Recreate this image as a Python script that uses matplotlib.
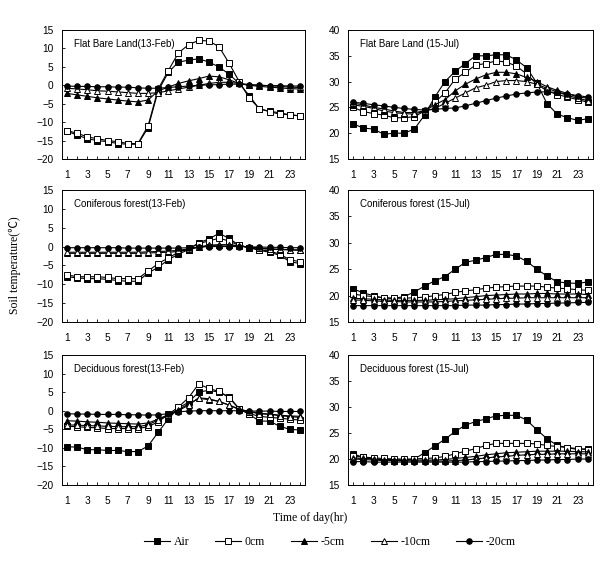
import matplotlib
matplotlib.use('agg')
import matplotlib.pyplot as plt
import numpy as np

hours = list(range(1, 25))
series_names = ["Air", "0cm", "-5cm", "-10cm", "-20cm"]

# Flat bare land, 13-Feb
fb_feb_air = [-12.5, -13.5, -14.5, -15, -15.3, -15.8, -16, -16, -11.5, -1.5, 3.5, 6.3,
              6.8, 7.2, 6.3, 5, 3, 0.5, -2.8, -6.5, -7, -7.5, -8, -8.3]
fb_feb_0 = [-12.3, -13, -14, -14.5, -15, -15.3, -15.8, -15.8, -11, -1, 4, 8.8,
            11, 12.2, 12, 10.5, 6, 1, -3.5, -6.3, -7.2, -7.8, -8, -8.3]
fb_feb_5 = [-2.2, -2.6, -3, -3.4, -3.7, -4, -4.3, -4.5, -4, -1.5, -0.5, 0.5,
            1.2, 1.8, 2.5, 2.3, 1.5, 0.5, 0, -0.3, -0.5, -0.7, -0.9, -1]
fb_feb_10 = [-0.8, -1, -1.2, -1.5, -1.6, -1.8, -2, -2.2, -2.2, -2, -1.5, -1,
             -0.5, 0, 0.5, 0.8, 0.8, 0.5, 0.2, 0, -0.1, -0.3, -0.5, -0.6]
fb_feb_20 = [-0.2, -0.3, -0.3, -0.4, -0.4, -0.5, -0.5, -0.7, -0.8, -0.8, -0.6, -0.4,
             -0.2, 0, 0.1, 0.2, 0.3, 0.3, 0.1, 0, -0.1, -0.1, -0.2, -0.2]

# Flat bare land, 15-Jul
fb_jul_air = [21.8, 21, 20.8, 19.8, 20, 20, 20.8, 23.5, 27, 30, 32, 33.5,
              35, 35, 35.2, 35.2, 34.2, 32.7, 29.7, 25.7, 23.7, 23, 22.5, 22.8]
fb_jul_0 = [25, 24.2, 23.8, 23.5, 23, 23, 23.2, 24.3, 26, 27.8, 30.5, 31.8,
            33.2, 33.5, 34, 33.8, 33, 31.5, 29.5, 28.2, 27.5, 27, 26.5, 26]
fb_jul_5 = [25.5, 25.2, 24.8, 24.3, 24, 23.8, 23.7, 24.3, 25.5, 26.5, 28.2, 29.5,
            30.5, 31.3, 31.8, 31.8, 31.5, 30.8, 30, 29, 28.3, 27.7, 27, 26.8]
fb_jul_10 = [25.8, 25.5, 25, 24.7, 24.3, 24, 24, 24.3, 24.8, 25.8, 26.8, 27.8,
             28.8, 29.3, 30, 30.2, 30.2, 30, 29.5, 28.7, 28, 27.3, 26.8, 26.3]
fb_jul_20 = [26, 25.8, 25.5, 25.3, 25, 24.8, 24.6, 24.5, 24.6, 24.8, 24.9, 25.3,
             25.8, 26.3, 26.8, 27.2, 27.6, 27.8, 28, 28, 27.9, 27.6, 27.3, 27]

# Coniferous forest, 13-Feb
cf_feb_air = [-8, -8.3, -8.5, -8.5, -8.7, -9, -9.2, -9.2, -7, -5.5, -3.5, -2,
              -0.8, 1, 2, 3.5, 2.2, 0.3, -0.3, -1, -1.5, -2.3, -4, -4.5]
cf_feb_0 = [-7.5, -8, -8, -8, -8.2, -8.5, -8.5, -8.5, -6.5, -4.5, -3, -1.5,
            -0.5, 0.8, 1.5, 2.2, 1.5, 0.3, -0.3, -0.8, -1.2, -2, -3.5, -4]
cf_feb_5 = [-1.8, -1.8, -1.8, -1.8, -1.8, -1.8, -1.8, -1.8, -1.7, -1.6, -1.5, -1.3,
            -0.8, -0.2, 0.3, 0.5, 0.5, 0.2, -0.2, -0.5, -0.7, -0.8, -0.9, -1]
cf_feb_10 = [-1.5, -1.5, -1.5, -1.5, -1.5, -1.5, -1.5, -1.5, -1.4, -1.3, -1.2, -1,
             -0.6, -0.1, 0.3, 0.4, 0.4, 0.2, -0.1, -0.4, -0.6, -0.7, -0.8, -0.9]
cf_feb_20 = [-0.3, -0.3, -0.3, -0.3, -0.3, -0.3, -0.4, -0.4, -0.4, -0.4, -0.4, -0.4,
             -0.3, -0.2, 0, 0, 0, 0, -0.1, -0.1, -0.2, -0.2, -0.3, -0.3]

# Coniferous forest, 15-Jul
cf_jul_air = [21.3, 20.5, 20, 19.5, 19.5, 19.8, 20.7, 21.8, 22.8, 23.6, 25, 26.3,
              26.7, 27.2, 27.8, 27.8, 27.5, 26.5, 25, 23.7, 22.6, 22.4, 22.3, 22.6]
cf_jul_0 = [20.3, 20, 19.8, 19.6, 19.5, 19.5, 19.6, 19.7, 20, 20.2, 20.6, 20.9,
            21.1, 21.4, 21.6, 21.7, 21.8, 21.8, 21.8, 21.6, 21.4, 21.3, 21.1, 21]
cf_jul_5 = [19.5, 19.4, 19.3, 19.2, 19.1, 19.1, 19.1, 19.1, 19.2, 19.3, 19.4, 19.6,
            19.8, 20, 20.1, 20.2, 20.3, 20.3, 20.4, 20.4, 20.3, 20.3, 20.3, 20.2]
cf_jul_10 = [19.2, 19.1, 19.0, 18.9, 18.9, 18.8, 18.8, 18.8, 18.8, 18.9, 19.0, 19.1,
             19.2, 19.3, 19.4, 19.5, 19.5, 19.6, 19.6, 19.6, 19.6, 19.6, 19.6, 19.6]
cf_jul_20 = [18.1, 18.1, 18.1, 18.1, 18.1, 18.1, 18.1, 18.1, 18.1, 18.1, 18.1, 18.2,
             18.2, 18.2, 18.3, 18.3, 18.4, 18.4, 18.5, 18.5, 18.6, 18.6, 18.7, 18.7]

# Deciduous forest, 13-Feb
df_feb_air = [-9.7, -9.8, -10.5, -10.5, -10.7, -10.7, -11, -11, -9.5, -5.8, -2.2, 0.7,
              2.3, 5, 5.5, 5, 3.8, 0.5, -1, -2.8, -2.8, -4.2, -5, -5.2]
df_feb_0 = [-4.2, -4.3, -4.5, -4.6, -4.8, -4.8, -4.8, -4.8, -4.3, -3, -1, 1,
            3.5, 7.2, 6, 5.2, 3.5, 0.5, -0.8, -1.5, -1.8, -2, -2.3, -2.5]
df_feb_5 = [-2.7, -2.8, -3, -3.1, -3.3, -3.4, -3.5, -3.6, -3.3, -2.3, -1, 0.3,
            1.8, 3.3, 3, 2.5, 1.5, 0.3, -0.2, -0.7, -0.9, -1.2, -1.4, -1.5]
df_feb_10 = [-3.8, -3.9, -4, -4.1, -4.2, -4.3, -4.3, -4.3, -3.8, -2.5, -1.2, 0,
             1.5, 3.5, 3.2, 2.5, 1.5, 0.5, -0.3, -0.8, -1, -1.3, -1.6, -1.8]
df_feb_20 = [-0.8, -0.9, -0.9, -1, -1, -1, -1.1, -1.1, -1.2, -1.1, -0.8, -0.3,
             -0.1, 0, 0, 0, 0, 0, -0.1, -0.1, -0.1, -0.2, -0.2, -0.2]

# Deciduous forest, 15-Jul
df_jul_air = [21, 20.3, 20, 19.8, 19.7, 19.7, 20, 21.2, 22.5, 23.8, 25.3, 26.5,
              27.2, 27.7, 28.3, 28.4, 28.4, 27.5, 25.6, 23.9, 22.6, 22.2, 21.8, 22]
df_jul_0 = [20.5, 20.4, 20.2, 20.1, 20, 20, 20, 20.1, 20.2, 20.5, 21, 21.5,
            22, 22.6, 23, 23, 23, 23, 22.9, 22.6, 22.4, 22.2, 22, 21.8]
df_jul_5 = [20.2, 20.1, 20, 19.9, 19.9, 19.8, 19.8, 19.8, 19.8, 19.9, 20.1, 20.3,
            20.5, 20.8, 21, 21.2, 21.3, 21.4, 21.5, 21.5, 21.5, 21.5, 21.4, 21.4]
df_jul_10 = [20, 19.9, 19.8, 19.7, 19.7, 19.6, 19.6, 19.6, 19.6, 19.6, 19.7, 19.8,
             20, 20.2, 20.4, 20.5, 20.7, 20.8, 20.9, 20.9, 21, 21, 21, 21]
df_jul_20 = [19.5, 19.5, 19.4, 19.4, 19.4, 19.4, 19.4, 19.4, 19.4, 19.4, 19.4, 19.4,
             19.5, 19.5, 19.6, 19.6, 19.7, 19.7, 19.8, 19.8, 19.9, 19.9, 20, 20]

panel_titles = ["Flat Bare Land(13-Feb)", "Flat Bare Land (15-Jul)",
                "Coniferous forest(13-Feb)", "Coniferous forest (15-Jul)",
                "Deciduous forest(13-Feb)", "Deciduous forest (15-Jul)"]
panel_data = [
    [fb_feb_air, fb_feb_0, fb_feb_5, fb_feb_10, fb_feb_20],
    [fb_jul_air, fb_jul_0, fb_jul_5, fb_jul_10, fb_jul_20],
    [cf_feb_air, cf_feb_0, cf_feb_5, cf_feb_10, cf_feb_20],
    [cf_jul_air, cf_jul_0, cf_jul_5, cf_jul_10, cf_jul_20],
    [df_feb_air, df_feb_0, df_feb_5, df_feb_10, df_feb_20],
    [df_jul_air, df_jul_0, df_jul_5, df_jul_10, df_jul_20],
]

styles = [("s", "black"), ("s", "white"), ("^", "black"), ("^", "white"), ("o", "black")]

fig = plt.figure(figsize=(6.06, 5.67), dpi=100)

# axes positions in pixels: left, right for columns; top, bottom for rows
W, H = 606., 567.
cols = [(62, 305), (348, 593)]
rows = [(30, 159), (190, 322), (355, 485)]

serif = ["Liberation Serif", "Noto Sans CJK SC", "DejaVu Sans"]
handles = []
for i, (title, data) in enumerate(zip(panel_titles, panel_data)):
    r, c = divmod(i, 2)
    x0, x1 = cols[c]
    y0, y1 = rows[r]
    ax = fig.add_axes([x0 / W, 1 - y1 / H, (x1 - x0) / W, (y1 - y0) / H])
    for k, (vals, (mk, fc)) in enumerate(zip(data, styles)):
        h, = ax.plot(hours, vals, color="black", lw=0.8, marker=mk, ms=4,
                     mfc=fc, mec="black", mew=0.7, label=series_names[k])
        if i == 0:
            handles.append(h)
    ax.set_xlim(0.5, 24.5)
    if c == 0:
        ax.set_ylim(-20, 15)
        ax.set_yticks(np.arange(-20, 16, 5))
    else:
        ax.set_ylim(15, 40)
        ax.set_yticks(np.arange(15, 41, 5))
    ax.set_xticks(range(1, 24, 2))
    ax.set_xticks(range(1, 25), minor=True)
    ax.tick_params(axis="both", which="both", direction="in", length=2.5, width=0.6, pad=6)
    ax.tick_params(axis="x", which="major", pad=8)
    for lab in ax.get_xticklabels() + ax.get_yticklabels():
        lab.set_fontfamily("Liberation Sans")
        lab.set_fontsize(7.3)
    for sp in ax.spines.values():
        sp.set_linewidth(0.7)
    ax.text(0.05, 0.93, title, transform=ax.transAxes, fontsize=7,
            family="Liberation Sans", va="top")

fig.text(15 / W, 1 - 265 / H, "Soil temperature(\u2103)", rotation=90, va="center", ha="center",
         family=serif, fontsize=8.5)
fig.text(310 / W, 1 - 518 / H, "Time of day(hr)", va="center", ha="center",
         family=serif, fontsize=8.5)
fig.legend(handles, series_names, loc="center", bbox_to_anchor=(330 / W, 1 - 542 / H),
           ncol=5, frameon=False, prop={"family": "Liberation Serif", "size": 8.5},
           handlelength=2.2, handletextpad=0.3, columnspacing=2.2)

fig.savefig("out.png", dpi=100)
plt.close()
